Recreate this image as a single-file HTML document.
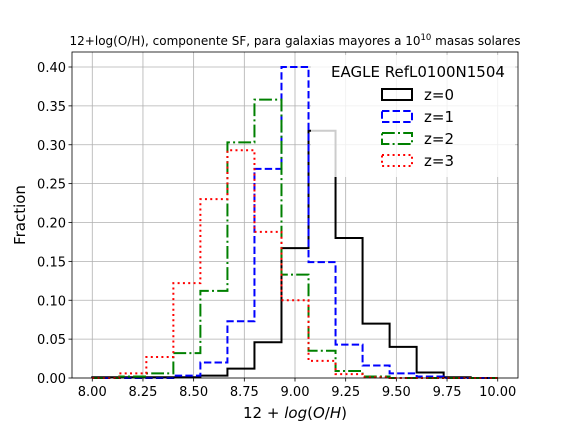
<!DOCTYPE html>
<html><head><meta charset="utf-8"><style>body{margin:0;background:#fff}svg{font-family:"DejaVu Sans","Liberation Sans",sans-serif}</style></head>
<body>
<svg id="c" width="576" height="432" xmlns="http://www.w3.org/2000/svg"></svg>
<script>
const binEdges=[8.0,8.1333,8.2667,8.4,8.5333,8.6667,8.8,8.9333,9.0667,9.2,9.3333,9.4667,9.6,9.7333,9.8667,10.0];
const z0=[0.001,0.001,0.001,0.001,0.003,0.012,0.046,0.167,0.318,0.18,0.07,0.04,0.007,0.001,0.0];
const z1=[0,0,0,0.003,0.02,0.073,0.269,0.40,0.149,0.043,0.016,0.006,0.002,0.0,0];
const z2=[0,0.002,0.006,0.032,0.112,0.303,0.358,0.133,0.035,0.009,0.002,0,0,0,0];
const z3=[0,0.006,0.027,0.122,0.23,0.293,0.188,0.1,0.022,0.005,0.001,0,0,0,0];
const xTicks=["8.00","8.25","8.50","8.75","9.00","9.25","9.50","9.75","10.00"];
const yTicks=["0.00","0.05","0.10","0.15","0.20","0.25","0.30","0.35","0.40"];
const NS="http://www.w3.org/2000/svg",svg=document.getElementById('c');
const L=72,R=518,T=52,B=378,x0=7.9,x1=10.1,y1=0.4193;
const X=v=>L+(v-x0)/(x1-x0)*(R-L),Y=v=>B-v/y1*(B-T);
function el(t,a,p){const e=document.createElementNS(NS,t);for(const k in a)e.setAttribute(k,a[k]);(p||svg).appendChild(e);return e;}
const grid=el('g',{});
xTicks.forEach(t=>{const x=X(+t);el('line',{x1:x,x2:x,y1:T,y2:B,stroke:'#b0b0b0','stroke-width':0.8},grid);
el('line',{x1:x,x2:x,y1:B,y2:B+3.5,stroke:'#000','stroke-width':0.8});
const tx=el('text',{x:x,y:B+18,'text-anchor':'middle','font-size':13});tx.textContent=t;
});
yTicks.forEach(t=>{const y=Y(+t);el('line',{x1:L,x2:R,y1:y,y2:y,stroke:'#b0b0b0','stroke-width':0.8},grid);
el('line',{x1:L-3.5,x2:L,y1:y,y2:y,stroke:'#000','stroke-width':0.8});
const tx=el('text',{x:L-6,y:y+5,'text-anchor':'end','font-size':13});tx.textContent=t;
});
const series=[[z0,'#000',''],[z1,'#0000ff','7.4,3.2'],[z2,'#008000','12.8,3.2,2,3.2'],[z3,'#ff0000','2,3.3']];
const names=['series-z0','series-z1','series-z2','series-z3'];
series.forEach((s,i)=>{let d='M'+X(binEdges[0])+','+Y(0);
s[0].forEach((v,j)=>{d+=' L'+X(binEdges[j])+','+Y(v)+' L'+X(binEdges[j+1])+','+Y(v);});
d+=' L'+X(binEdges[binEdges.length-1])+','+Y(0);
const p=el('path',{d:d,fill:'none',stroke:s[1],'stroke-width':2,'stroke-dasharray':s[2]});
});
const lg=el('g',{});
el('rect',{x:311,y:55,width:204,height:122,fill:'#fff','fill-opacity':0.8},lg);
const lt=el('text',{x:418,y:77,'text-anchor':'middle','font-size':15},lg);lt.textContent='EAGLE RefL0100N1504';

['z=0','z=1','z=2','z=3'].forEach((n,i)=>{const y=95+i*22;
el('rect',{x:382,y:y-6,width:30,height:11,fill:'none',stroke:series[i][1],'stroke-width':2,'stroke-dasharray':series[i][2]},lg);
const t=el('text',{x:424,y:y+5,'font-size':15},lg);t.textContent=n;
});
el('rect',{x:L,y:T,width:R-L,height:B-T,fill:'none',stroke:'#000','stroke-width':0.8});
const ti=el('text',{x:295,y:45,'text-anchor':'middle','font-size':12});
ti.innerHTML='12+log(O/H), componente SF, para galaxias mayores a 10<tspan dy="-5" font-size="8.5">10</tspan><tspan dy="5"> masas solares</tspan>';

const xl=el('text',{x:295,y:418,'text-anchor':'middle','font-size':15});
xl.innerHTML='12 + <tspan font-style="italic">log</tspan>(<tspan font-style="italic">O</tspan>/<tspan font-style="italic">H</tspan>)';

const yl=el('text',{x:25,y:215,'text-anchor':'middle','font-size':15,transform:'rotate(-90 25 215)'});yl.textContent='Fraction';

</script>
</body></html>
